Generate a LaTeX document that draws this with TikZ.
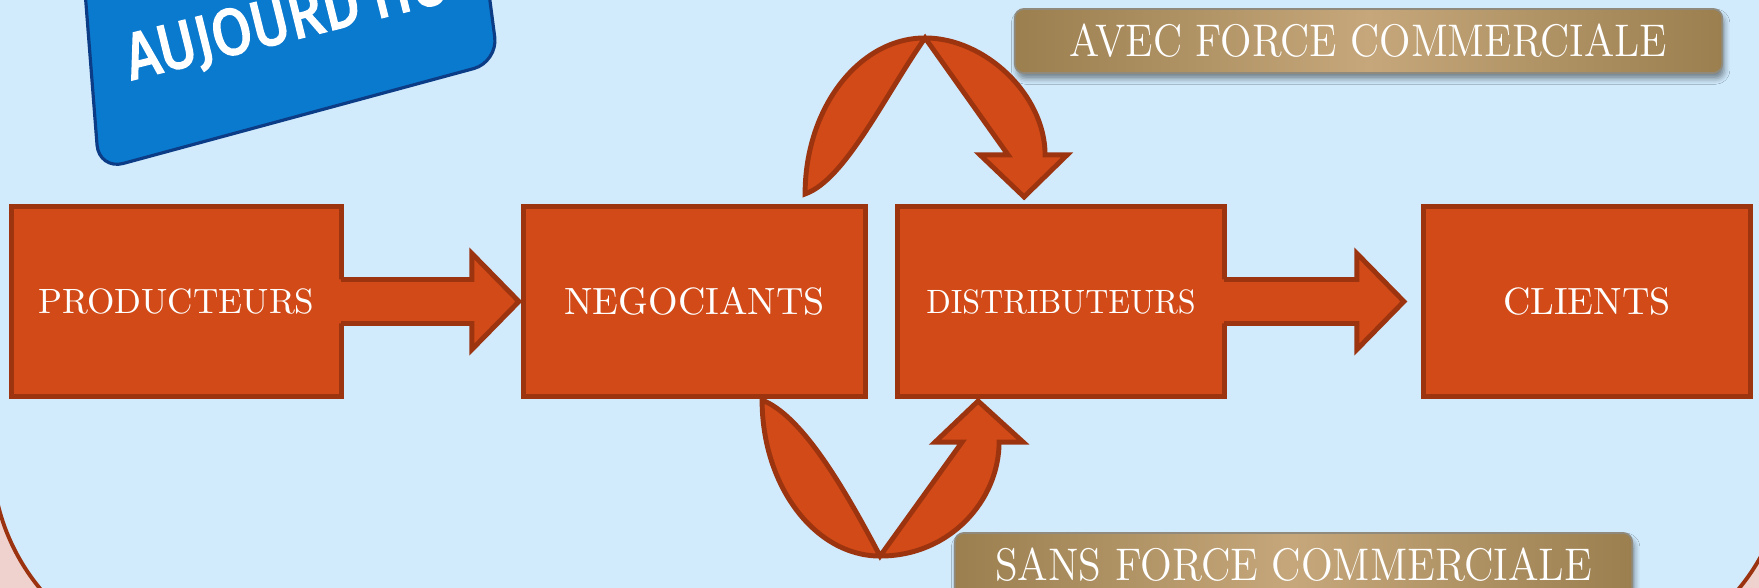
\documentclass[tikz,border=0pt]{standalone}
\usepackage{fontspec}
\usepackage{graphicx}
\newfontfamily\badgefont{Fira Sans}[FakeBold=3.2]
\usetikzlibrary{calc,shadows.blur}
\definecolor{skyback}{HTML}{D1EBFD}
\definecolor{rimpink}{HTML}{EFD2CE}
\definecolor{rimline}{HTML}{9C3310}
\definecolor{boxfill}{HTML}{D24A17}
\definecolor{boxline}{HTML}{9C3410}
\definecolor{tagblue}{HTML}{0A7ACF}
\definecolor{tagline}{HTML}{0B3C85}
\definecolor{golddark}{HTML}{9B7F4F}
\definecolor{goldlight}{HTML}{C5A77B}
\definecolor{goldline}{HTML}{8F8A7C}

\begin{document}
\begin{tikzpicture}[x=0.01cm, y=-0.01cm,
    stage/.style={draw=boxline, fill=boxfill, line width=1.4pt, outer sep=0pt, inner sep=0pt,
      minimum height=1.89cm, text=white},
    curlarrow/.style={draw=boxline, fill=boxfill, line width=1.4pt, line join=miter},
    goldtag/.style={draw=goldline, line width=0.5pt, rounded corners=0.09cm,
      left color=golddark, right color=golddark, middle color=goldlight,
      text=white, inner sep=0pt, minimum height=0.64cm, font=\fontsize{13}{15}\selectfont,
      blur shadow={shadow xshift=0.6pt, shadow yshift=-1.6pt, shadow blur radius=1.6pt, shadow opacity=45}},
  ]
  \useasboundingbox (0,0) rectangle (1759,588);
  \clip (0,0) rectangle (1759,588);
  \fill[rimpink] (0,0) rectangle (1759,588);
  \draw[fill=skyback, draw=rimline, line width=1.1pt, rounded corners=2.1cm] (-8,-300) rectangle (1787,665);

  \draw[fill=tagblue, draw=tagline, line width=0.9pt, rounded corners=0.25cm]
    (81,-60) -- (99,170) -- (498,62) -- (482,-60) -- cycle;
  \node[anchor=base west, rotate=14, inner sep=0pt, text=white,
    font=\badgefont\fontsize{18.5}{20}\selectfont] (today) at (131,80) {\scalebox{0.89}[1]{AUJOURD’HUI}};

  \node[stage, minimum width=3.29cm, font=\fontsize{10}{12}\selectfont] (prod) at (176.5,301.5) {PRODUCTEURS};
  \node[stage, minimum width=3.41cm, font=\fontsize{10.8}{13}\selectfont] (nego) at (694.5,301.5) {NEGOCIANTS};
  \node[stage, minimum width=3.26cm, font=\fontsize{9.6}{12}\selectfont] (dist) at (1061,301.5) {\scalebox{0.95}[1]{DISTRIBUTEURS}};
  \node[stage, minimum width=3.26cm, font=\fontsize{10.8}{13}\selectfont] (cli) at (1587,301.5) {CLIENTS};

  \foreach \a/\b/\gap in {prod/nego/5, dist/cli/20}{
    \fill[boxfill] ($(\a.east)+(-4,-22)$) -- ($(\b.west)+(-\gap-47,-22)$) -- ($(\b.west)+(-\gap-47,-48)$)
      -- ($(\b.west)+(-\gap,0)$) -- ($(\b.west)+(-\gap-47,48)$) -- ($(\b.west)+(-\gap-47,22)$)
      -- ($(\a.east)+(-4,22)$) -- cycle;
    \draw[boxline, line width=1.4pt, line join=miter] ($(\a.east)+(0,-22)$) -- ($(\b.west)+(-\gap-47,-22)$)
      -- ($(\b.west)+(-\gap-47,-48)$) -- ($(\b.west)+(-\gap,0)$) -- ($(\b.west)+(-\gap-47,48)$)
      -- ($(\b.west)+(-\gap-47,22)$) -- ($(\a.east)+(0,22)$);
  }

  \begin{scope}[shift={(nego.north east)}]
    \draw[curlarrow] (-60,-13) .. controls (-60,-99) and (-6,-169) .. (60,-169)
      .. controls (120,-169) and (180,-112) .. (180,-52) -- (202,-52) -- (159,-10) -- (115,-52)
      -- (143,-52) -- (60,-169) .. controls (20,-112) and (-20,-27) .. (-60,-13) -- cycle;
  \end{scope}
  \begin{scope}[shift={(nego.south east)}]
    \draw[curlarrow] (-103,4) .. controls (-103,90) and (-50,160) .. (15,160)
      .. controls (85,160) and (134,104) .. (134,46) -- (158,46) -- (113,5) -- (70,46)
      -- (97,46) -- (15,160) .. controls (-25,84) and (-65,19) .. (-103,4) -- cycle;
  \end{scope}

  \node[goldtag, minimum width=7.07cm] (avec) at (1368.5,41) {\scalebox{0.9}[1]{AVEC FORCE COMMERCIALE}};
  \node[goldtag, minimum width=6.77cm] (sans) at (1293.5,565) {\scalebox{0.91}[1]{SANS FORCE COMMERCIALE}};
\end{tikzpicture}
\end{document}
